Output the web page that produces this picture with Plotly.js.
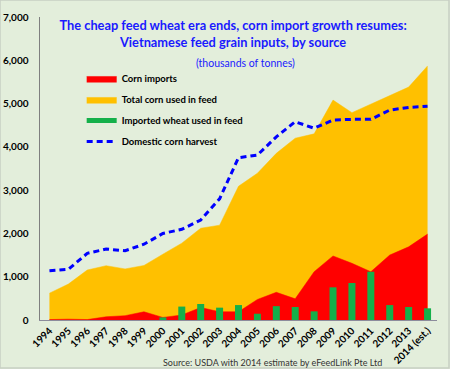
<!DOCTYPE html>
<html>
<head>
<meta charset="utf-8">
<script src="https://cdn.plot.ly/plotly-3.0.1.min.js"></script>
<style>
html,body{margin:0;padding:0;background:#e3eedb;}
#chart{width:450px;height:369px;}
</style>
</head>
<body>
<div id="chart"></div>
<script>
var years = ['1994','1995','1996','1997','1998','1999','2000','2001','2002','2003','2004','2005','2006','2007','2008','2009','2010','2011','2012','2013','2014 (est.)'];
var totalCorn = [620, 830, 1155, 1255, 1180, 1260, 1520, 1775, 2120, 2190, 3090, 3390, 3850, 4200, 4300, 5080, 4790, 4990, 5180, 5380, 5870];
var cornImports = [10, 20, 10, 75, 100, 190, 60, 115, 290, 190, 190, 475, 640, 490, 1115, 1480, 1310, 1115, 1500, 1690, 1985];
var importedWheat = [0, 0, 0, 0, 0, 0, 60, 310, 370, 285, 345, 145, 320, 300, 200, 755, 855, 1115, 345, 300, 270];
var domesticHarvest = [1140, 1170, 1540, 1640, 1600, 1750, 2000, 2095, 2310, 2800, 3750, 3810, 4230, 4580, 4430, 4620, 4635, 4635, 4850, 4910, 4940];
var yTicks = [0, 1000, 2000, 3000, 4000, 5000, 6000, 7000];

var FONT = 'Lato, "Open Sans", sans-serif';
var nulls = years.map(function(){return null;});

var traces = [
  {type:'scatter', mode:'lines', x:years, y:totalCorn, name:'Total corn used in feed',
   fill:'tozeroy', fillcolor:'#ffc000', line:{color:'#ffc000', width:0.5},
   legendgroup:'b', legendrank:2, hoverinfo:'skip'},
  {type:'scatter', mode:'lines', x:years, y:cornImports, name:'Corn imports',
   fill:'tozeroy', fillcolor:'#ff0000', line:{color:'#ff0000', width:0.5},
   legendgroup:'a', legendrank:1, hoverinfo:'skip'},
  {type:'bar', x:years, y:importedWheat, name:'Imported wheat used in feed', xaxis:'x2', yaxis:'y2',
   marker:{color:'#14b04a'}, width:0.37, showlegend:false, hoverinfo:'skip'},
  {type:'scatter', mode:'lines', x:years, y:nulls, name:'Imported wheat used in feed', xaxis:'x2', yaxis:'y2',
   line:{color:'#14b04a', width:5}, legendgroup:'c', legendrank:3, hoverinfo:'skip'},
  {type:'scatter', mode:'lines', x:years, y:domesticHarvest, name:'Domestic corn harvest', xaxis:'x2', yaxis:'y2',
   line:{color:'#0000ff', width:3, dash:'6px,4px'}, legendgroup:'d', legendrank:4, hoverinfo:'skip'}
];

var layout = {
  width:450, height:369,
  paper_bgcolor:'#e3eedb', plot_bgcolor:'rgba(0,0,0,0)',
  margin:{l:40, r:13, t:17, b:49},
  font:{family:FONT, color:'#000'},
  showlegend:true,
  legend:{x:0.105, y:0.845, xanchor:'left', yanchor:'top', bgcolor:'rgba(0,0,0,0)',
    traceorder:'grouped', tracegroupgap:2, font:{size:9.5, weight:'bold', color:'#000'}},
  title:{text:'The cheap feed wheat era ends, corn import growth resumes:<br>Vietnamese feed grain inputs, by source',
    font:{size:12.8, color:'#1a1aff', weight:'bold', family:FONT},
    x:0.518, xanchor:'center', y:0.918, yanchor:'top', yref:'container'},
  xaxis:{type:'category', range:[-0.5,20.5], showgrid:false, zeroline:false, showline:true,
    linecolor:'#8c8c9c', linewidth:1, ticks:'', tickangle:-45,
    tickfont:{size:10, weight:'bold', color:'#000'}},
  yaxis:{range:[0,7000], tickvals:yTicks, tickformat:',d', showgrid:false, zeroline:false,
    showline:true, linecolor:'#7f7f7f', linewidth:1.5, ticks:'', ticklabelstandoff:8,
    tickfont:{size:10, weight:'bold', color:'#000'}},
  xaxis2:{type:'category', overlaying:'x', matches:'x', range:[-0.5,20.5], visible:false},
  yaxis2:{overlaying:'y', matches:'y', range:[0,7000], visible:false},
  annotations:[
    {text:'(thousands of tonnes)', xref:'paper', yref:'paper', x:0.518, y:(320-63)/303,
     xanchor:'center', yanchor:'middle', showarrow:false, font:{size:10.5, color:'#1a1aff', family:FONT}},
    {text:'Source: USDA with 2014 estimate by eFeedLink Pte Ltd', xref:'paper', yref:'paper',
     x:(272-40)/397, y:-(362-320)/303, xanchor:'center', yanchor:'middle', showarrow:false,
     font:{size:9, color:'#333', family:FONT}}
  ],
  shapes:[
    {type:'rect', xref:'paper', yref:'paper', x0:-40/397, x1:(449-40)/397, y0:-(368-320)/303, y1:(320)/303,
     line:{color:'#c8cfc4', width:1.5}, fillcolor:'rgba(0,0,0,0)', layer:'below'}
  ]
};

Plotly.newPlot('chart', traces, layout, {displayModeBar:false, staticPlot:true});
</script>
</body>
</html>
